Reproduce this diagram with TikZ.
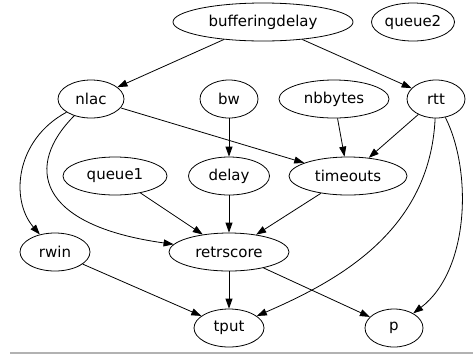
\documentclass[tikz,border=0pt]{standalone}
\usepackage{fontspec}
\setmainfont{DejaVu Sans}
\usetikzlibrary{shapes.geometric,arrows.meta}
\tikzset{
  nd/.style={draw, ellipse, inner sep=0pt, minimum height=38bp, line width=0.8bp, font=\fontsize{15bp}{18bp}\selectfont},
  arr/.style={draw, line width=0.8bp, -{Triangle[length=10bp,width=7bp]}},
}
\begin{document}
\begin{tikzpicture}[x=1bp,y=-1bp]
\useasboundingbox (0,0) rectangle (473,356);
\node[nd, minimum width=180bp] (bufferingdelay) at (263,22) {bufferingdelay};
\node[nd, minimum width=83bp] (queue2) at (413,22) {queue2};
\node[nd, minimum width=66bp] (nlac) at (91,99) {nlac};
\node[nd, minimum width=58bp] (bw) at (229,99) {bw};
\node[nd, minimum width=110bp] (nbbytes) at (334,99) {nbbytes};
\node[nd, minimum width=58bp] (rtt) at (436,99) {rtt};
\node[nd, minimum width=104bp] (queue1) at (115,176) {queue1};
\node[nd, minimum width=81bp] (delay) at (229,176) {delay};
\node[nd, minimum width=118bp] (timeouts) at (348,176) {timeouts};
\node[nd, minimum width=70bp] (rwin) at (55,252) {rwin};
\node[nd, minimum width=120bp] (retrscore) at (229,252) {retrscore};
\node[nd, minimum width=70bp] (tput) at (229,328) {tput};
\node[nd, minimum width=58bp] (p) at (394,328) {p};
\coordinate (lineL) at (10,353);
\coordinate (lineR) at (473,353);
\draw[line width=1.2bp, black!30] (lineL) -- (lineR);

\draw[arr] (bufferingdelay) -- (nlac);
\draw[arr] (bufferingdelay) -- (rtt);
\draw[arr] (bw) -- (delay);
\draw[arr] (nbbytes) -- (timeouts);
\draw[arr] (rtt) -- (timeouts);
\draw[arr] (nlac) -- (timeouts);
\draw[arr] (nlac) .. controls (15,140) and (10,200) .. (rwin);
\draw[arr] (nlac) .. controls (25,165) and (35,225) .. (retrscore);
\draw[arr] (rtt) .. controls (430,230) and (340,280) .. (tput);
\draw[arr] (rtt) .. controls (472,170) and (470,270) .. (p);
\draw[arr] (queue1) -- (retrscore);
\draw[arr] (delay) -- (retrscore);
\draw[arr] (timeouts) -- (retrscore);
\draw[arr] (rwin) -- (tput);
\draw[arr] (retrscore) -- (tput);
\draw[arr] (retrscore) -- (p);
\end{tikzpicture}
\end{document}
